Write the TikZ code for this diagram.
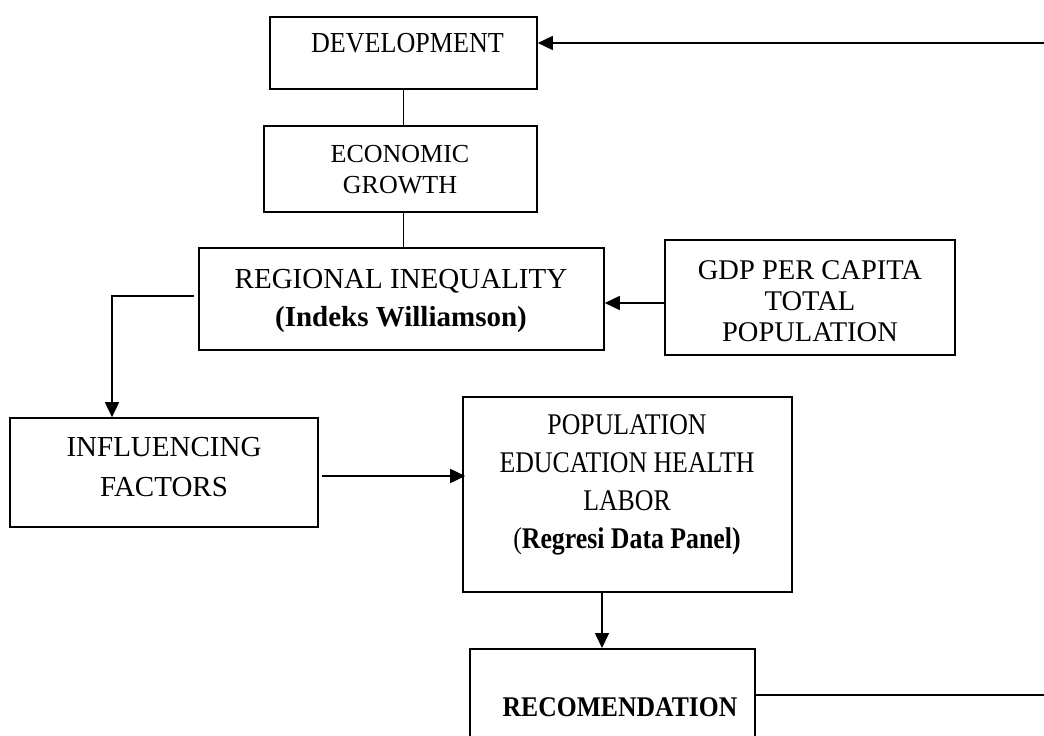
\documentclass[tikz,border=0pt]{standalone}
\usepackage{fontspec}
\setmainfont{Liberation Serif}
\newfontfamily\narrowA[FakeStretch=0.9]{Liberation Serif}
\newfontfamily\narrowB[FakeStretch=0.86]{Liberation Serif}
\usetikzlibrary{arrows.meta}

\tikzset{
  box/.style={draw, line width=1.6pt, inner sep=0pt},
  boxtext/.style={inner sep=0pt, align=center},
  link/.style={line width=1.6pt},
  arrowlink/.style={link, -{Triangle[length=15pt,width=14pt]}},
}

\begin{document}
\begin{tikzpicture}[x=1pt, y=-1pt]
  \useasboundingbox (0,0) rectangle (1044,736);
  \fill[white] (0,0) rectangle (1044,736);
  \clip (0,0) rectangle (1044,736);

  % boxes
  \node[box, minimum width=267pt, minimum height=72pt]  (dev)  at (403.5,53) {};
  \node[box, minimum width=273pt, minimum height=86pt]  (econ) at (400.5,169) {};
  \node[box, minimum width=405pt, minimum height=102pt] (reg)  at (401.5,299) {};
  \node[box, minimum width=290pt, minimum height=115pt] (gdp)  at (810,297.5) {};
  \node[box, minimum width=308pt, minimum height=109pt] (infl) at (164,472.5) {};
  \node[box, minimum width=329pt, minimum height=195pt] (pop)  at (627.5,494.5) {};
  \node[box, minimum width=285pt, minimum height=140pt, anchor=north west] (rec) at (469,648) {};

  % box texts
  \node[boxtext, font=\narrowA\fontsize{29}{38}\selectfont] (devt) at (407.5,43.5) {DEVELOPMENT};
  \node[boxtext, font=\fontsize{26}{31.5}\selectfont] (econt) at (400,169.5) {ECONOMIC\\GROWTH};
  \node[boxtext, font=\fontsize{29}{37.5}\selectfont] (regt) at (401,300.9)
    {REGIONAL INEQUALITY\\\textbf{(Indeks Williamson)}};
  \node[boxtext, font=\fontsize{28.5}{31}\selectfont] (gdpt) at (810,301)
    {GDP PER CAPITA\\TOTAL\\POPULATION};
  \node[boxtext, font=\fontsize{29}{39.5}\selectfont] (inflt) at (164,467)
    {INFLUENCING\\FACTORS};
  \node[boxtext, font=\narrowB\fontsize{30}{38}\selectfont] (popt) at (627,485.2)
    {POPULATION\\EDUCATION HEALTH\\LABOR\\(\textbf{Regresi Data Panel)}};
  \node[boxtext, font=\narrowA\bfseries\fontsize{28.5}{36}\selectfont] (rect) at (620,707.5)
    {RECOMENDATION};

  % free ends at the right margin
  \coordinate (topR) at (1044,43);
  \coordinate (botR) at (1044,695);

  % connectors
  \draw[arrowlink] (topR) -- (topR -| dev.east);
  \draw[link] (dev.south) -- (dev.south |- econ.north);
  \draw[link] ([xshift=3pt]econ.south) -- ([xshift=3pt]econ.south |- reg.north);
  \draw[arrowlink] ([yshift=-5.5pt]gdp.west) -- ([yshift=-5.5pt]gdp.west -| reg.east);
  \draw[arrowlink] ([xshift=-4pt,yshift=3pt]reg.west) -| ([xshift=-52pt]infl.north);
  \draw[arrowlink] ([xshift=3pt,yshift=-3.5pt]infl.east) -- ([xshift=3pt,yshift=-3.5pt]infl.east -| pop.west);
  \draw[arrowlink] ([xshift=-25.5pt]pop.south) -- ([xshift=-25.5pt]pop.south |- rec.north);
  \draw[link] ([yshift=-47pt]rec.north east) -- ([yshift=-47pt]rec.north east -| botR);
\end{tikzpicture}
\end{document}
